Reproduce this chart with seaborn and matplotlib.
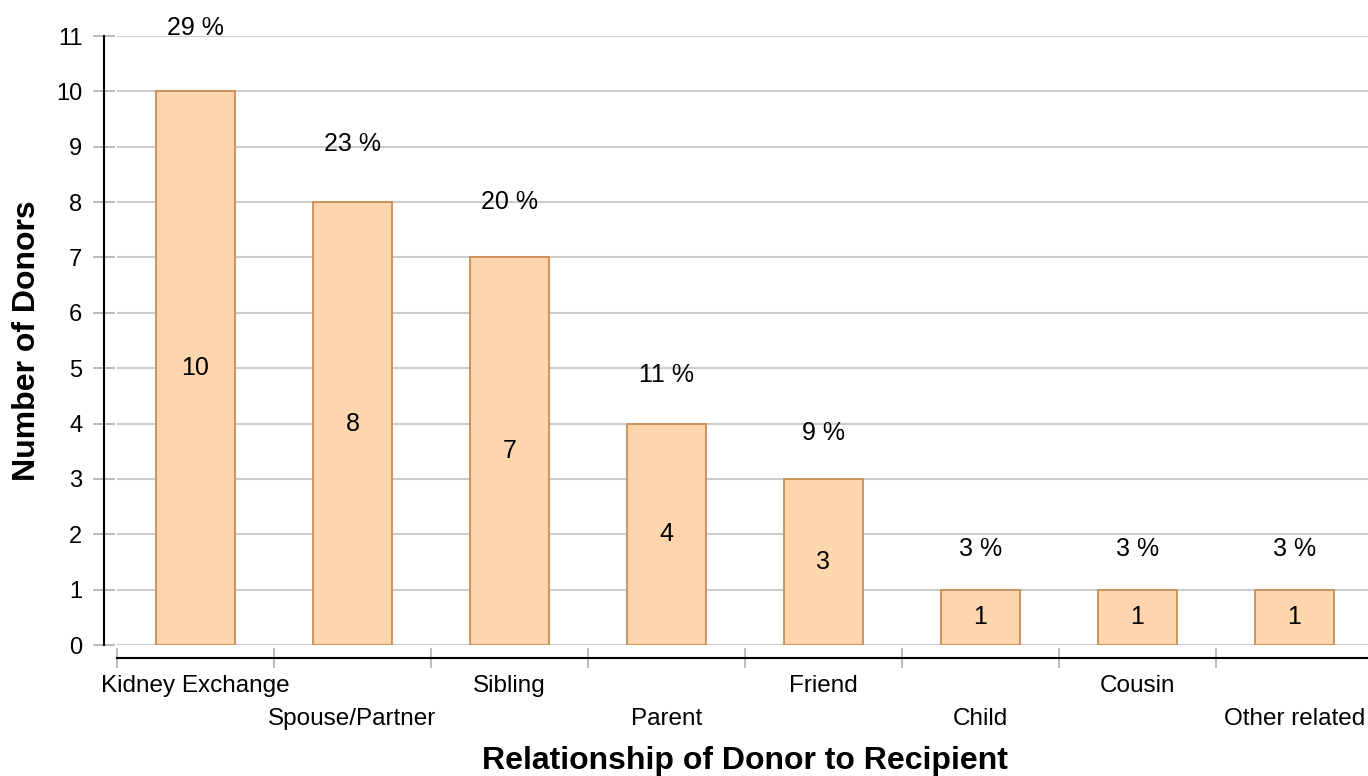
import matplotlib
matplotlib.use("Agg")
import matplotlib.pyplot as plt
import seaborn as sns
import pandas as pd
import numpy as np

relationships = ["Kidney Exchange", "Spouse/Partner", "Sibling", "Parent",
                 "Friend", "Child", "Cousin", "Other related"]
donors = [10, 8, 7, 4, 3, 1, 1, 1]

fill_color = "#FDD6AD"
edge_color = "#C98D55"
grid_color = "#CCCCCC"

sns.set_style("white")
plt.rcParams["font.family"] = ["Liberation Sans", "DejaVu Sans"]
plt.rcParams["text.color"] = "black"
plt.rcParams["axes.labelcolor"] = "black"

df = pd.DataFrame({"Relationship": relationships, "Donors": donors})
total = sum(donors)

fig = plt.figure(figsize=(13.68, 7.76), dpi=100)
ax = fig.add_axes([0.0855, 0.1688, 0.918, 0.7848])

sns.barplot(data=df, x="Relationship", y="Donors", color=fill_color,
            saturation=1, edgecolor=edge_color, linewidth=1.3, width=0.5, ax=ax)

ax.set_ylim(0, 11)
ax.set_xlim(-0.5, len(relationships) - 0.5)
ax.set_yticks(range(0, 12))
ax.yaxis.grid(True, color=grid_color, linewidth=1.5)
ax.set_axisbelow(True)

sns.despine(ax=ax, offset=9.4)
for side in ["left", "bottom"]:
    ax.spines[side].set_color("black")
    ax.spines[side].set_linewidth(1.5)

# value labels inside bars, percentages above
for i, v in enumerate(donors):
    ax.text(i, v / 2, str(v), ha="center", va="center", fontsize=18)
    pct = round(100 * v / total)
    ax.text(i, v * 1.047 + 0.68, f"{pct} %", ha="center", va="center",
            fontsize=18, clip_on=False)

# ticks: y gray dashes, x boundaries as minor ticks
ax.tick_params(axis="y", direction="inout", length=16, width=1.4,
               color="#BBBBBB", labelcolor="black", labelsize=17, pad=7.5,
               left=True)
ax.set_xticks(np.arange(len(relationships)))
ax.set_xticks(np.arange(len(relationships) + 1) - 0.5, minor=True)
ax.tick_params(axis="x", which="major", length=0, labelsize=17.5,
               labelcolor="black")
ax.tick_params(axis="x", which="minor", direction="inout", length=14,
               width=1.4, color="#BBBBBB", bottom=True)
for i, tick in enumerate(ax.xaxis.get_major_ticks()):
    tick.set_pad(12.5 if i % 2 == 0 else 36)

ax.set_xlabel("Relationship of Donor to Recipient", fontsize=23,
              fontweight="bold", labelpad=11.5)
ax.set_ylabel("Number of Donors", fontsize=23, fontweight="bold", labelpad=10)

fig.savefig("out.png", dpi=100)
